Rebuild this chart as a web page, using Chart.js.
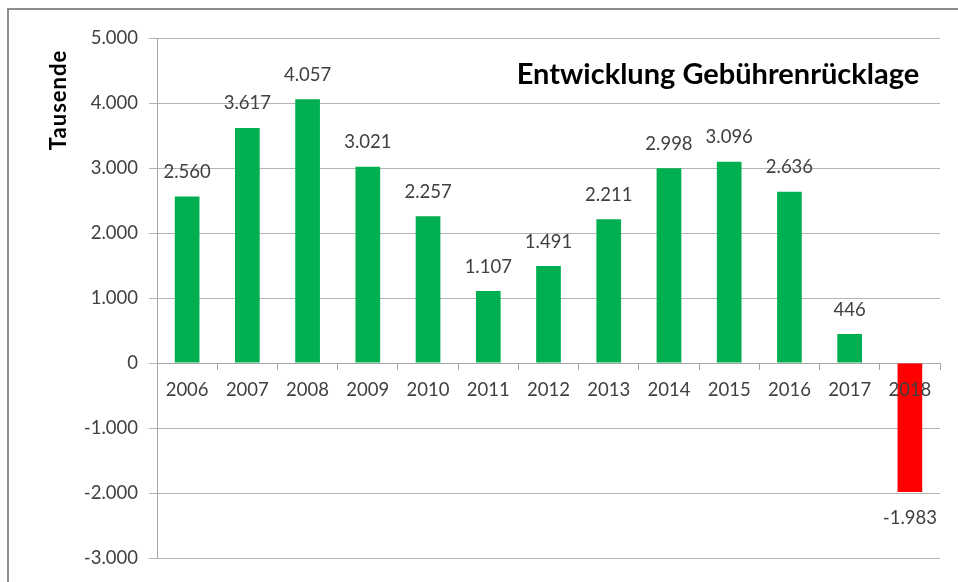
<!DOCTYPE html>
<html>
<head>
    <title>Entwicklung Gebührenrücklage</title>
    <script src="https://cdn.jsdelivr.net/npm/chart.js"></script>
    <style>
        body {
            margin: 0;
            background: #ffffff;
            overflow: hidden;
        }
        .frame {
            position: absolute;
            left: 7px;
            top: 8px;
            width: 1000px;
            height: 1000px;
            border: 2px solid #8c8c8c;
        }
        .wrap {
            position: absolute;
            left: 0;
            top: 0;
            width: 958px;
            height: 582px;
        }
    </style>
</head>
<body>
    <div class="frame"></div>
    <div class="wrap"><canvas id="chart"></canvas></div>

    <script>
        const years = ['2006', '2007', '2008', '2009', '2010', '2011', '2012', '2013', '2014', '2015', '2016', '2017', '2018'];
        const ruecklage = [2560, 3617, 4057, 3021, 2257, 1107, 1491, 2211, 2998, 3096, 2636, 446, -1983];
        const yTicks = [-3000, -2000, -1000, 0, 1000, 2000, 3000, 4000, 5000];

        const FONT = "Lato, 'Open Sans', sans-serif";

        // deutsche Tausenderpunkte
        function fmt(v) {
            const s = Math.abs(v).toString().replace(/\B(?=(\d{3})+(?!\d))/g, '.');
            return (v < 0 ? '-' : '') + s;
        }

        const barLabels = {
            id: 'barLabels',
            afterDatasetsDraw(chart) {
                const c = chart.ctx;
                const meta = chart.getDatasetMeta(0);
                c.save();
                c.font = '18.5px ' + FONT;
                c.fillStyle = '#404040';
                c.textAlign = 'center';
                c.textBaseline = 'alphabetic';
                meta.data.forEach((bar, i) => {
                    const v = ruecklage[i];
                    const y = v >= 0 ? bar.y - 18.5 : bar.y + 32;
                    c.fillText(fmt(v), bar.x, y);
                });
                c.restore();
            }
        };

        const texts = {
            id: 'texts',
            afterDraw(chart) {
                const c = chart.ctx;
                c.save();
                c.fillStyle = '#000000';
                c.font = 'bold 29px ' + FONT;
                c.textAlign = 'center';
                c.textBaseline = 'alphabetic';
                c.fillText('Entwicklung Gebührenrücklage', 718, 84);
                c.translate(66, 100);
                c.rotate(-Math.PI / 2);
                c.font = 'bold 22px ' + FONT;
                c.letterSpacing = '1px';
                c.fillText('Tausende', 0, 0);
                c.restore();
            }
        };

        new Chart(document.getElementById('chart'), {
            type: 'bar',
            data: {
                labels: years,
                datasets: [{
                    data: ruecklage,
                    backgroundColor: ruecklage.map(v => v < 0 ? '#ff0000' : '#00b050'),
                    barPercentage: 0.41,
                    categoryPercentage: 1.0
                }]
            },
            options: {
                responsive: true,
                maintainAspectRatio: false,
                animation: false,
                layout: { padding: { top: 38, right: 18, bottom: 24, left: 0 } },
                plugins: {
                    legend: { display: false },
                    tooltip: { enabled: false }
                },
                scales: {
                    x: {
                        position: { y: 0 },
                        grid: {
                            drawOnChartArea: false,
                            drawTicks: true,
                            tickLength: 6,
                            color: '#a6a6a6'
                        },
                        border: { color: '#a6a6a6' },
                        ticks: {
                            z: 1,   // Jahreszahlen über dem roten Balken
                            color: '#404040',
                            font: { family: FONT, size: 18.5 },
                            padding: 10,
                            maxRotation: 0
                        }
                    },
                    y: {
                        min: -3000,
                        max: 5000,
                        afterBuildTicks(scale) {
                            scale.ticks = yTicks.map(v => ({ value: v }));
                        },
                        afterFit(scale) {
                            scale.width = 157;
                        },
                        grid: {
                            color: '#b4b4b4',
                            tickLength: 8
                        },
                        border: { color: '#a6a6a6' },
                        ticks: {
                            color: '#404040',
                            font: { family: FONT, size: 18.5 },
                            padding: 11,
                            callback: v => fmt(v)
                        }
                    }
                }
            },
            plugins: [barLabels, texts]
        });
    </script>
</body>
</html>
